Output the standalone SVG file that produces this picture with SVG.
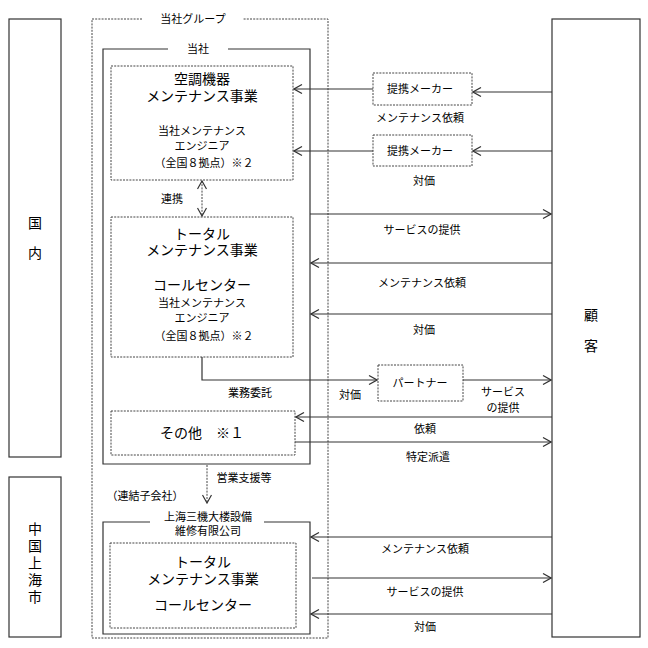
<svg xmlns="http://www.w3.org/2000/svg" width="648" height="648" viewBox="0 0 648 648">
<defs>
<style>
.s{fill:none;stroke:#333;stroke-width:1.2}
.d{fill:#fff;stroke:#444;stroke-width:1;stroke-dasharray:2,1.2}
.dl{fill:none;stroke:#444;stroke-width:1;stroke-dasharray:2,1.2}
.l{fill:none;stroke:#333;stroke-width:1.2}
text{font-family:"Noto Sans CJK JP","Noto Sans",sans-serif;fill:#000;text-anchor:middle}
.sm{font-size:11px}
.lg{font-size:14px}
.vt{font-size:14px}
</style>
<marker id="a" markerWidth="10" markerHeight="10" refX="9" refY="5" orient="auto-start-reverse" markerUnits="userSpaceOnUse">
<path d="M1,0.5 L9,5 L1,9.5" fill="none" stroke="#333" stroke-width="1.2"/>
</marker>
</defs>
<rect width="648" height="648" fill="#fff"/>

<g id="domestic">
<rect class="s" x="9" y="19" width="52" height="438"/>
<text class="vt" x="35" y="228">国</text>
<text class="vt" x="35" y="258">内</text>
</g>
<g id="shanghai-region">
<rect class="s" x="9" y="477" width="52" height="160"/>
<text class="vt" x="35" y="534">中</text>
<text class="vt" x="35" y="551">国</text>
<text class="vt" x="35" y="568">上</text>
<text class="vt" x="35" y="585">海</text>
<text class="vt" x="35" y="602">市</text>
</g>

<g id="group">
<path class="dl" d="M142,19 H92 V638 H328 V19 H243"/>
<text class="sm" x="193" y="23">当社グループ</text>
</g>

<g id="company">
<path class="s" d="M168,49 H103 V464 H310 V49 H228"/>
<text class="sm" x="198" y="53">当社</text>
</g>

<g id="aircon">
<rect class="d" x="111" y="66" width="182" height="114"/>
<text class="lg" x="202" y="84">空調機器</text>
<text class="lg" x="202" y="101">メンテナンス事業</text>
<text class="sm" x="202" y="135">当社メンテナンス</text>
<text class="sm" x="202" y="150">エンジニア</text>
<text class="sm" x="204" y="167">（全国８拠点）※２</text>
</g>

<g id="total">
<rect class="d" x="111" y="217" width="182" height="140"/>
<text class="lg" x="202" y="239">トータル</text>
<text class="lg" x="202" y="255">メンテナンス事業</text>
<text class="lg" x="202" y="290">コールセンター</text>
<text class="sm" x="202" y="307">当社メンテナンス</text>
<text class="sm" x="202" y="322">エンジニア</text>
<text class="sm" x="204" y="340">（全国８拠点）※２</text>
</g>

<g id="other">
<rect class="d" x="111" y="411" width="184" height="44"/>
<text class="lg" x="202" y="438">その他　※１</text>
</g>

<g id="subsidiary">
<path class="s" d="M150,522 H103 V634 H310 V522 H264"/>
<text class="sm" x="208" y="521">上海三機大楼設備</text>
<text class="sm" x="208" y="535">維修有限公司</text>
<rect class="d" x="110" y="543" width="186" height="85"/>
<text class="lg" x="203" y="567">トータル</text>
<text class="lg" x="203" y="584">メンテナンス事業</text>
<text class="lg" x="203" y="610">コールセンター</text>
</g>

<g id="maker1">
<rect class="d" x="373" y="73" width="99" height="32"/>
<text class="sm" x="420" y="93">提携メーカー</text>
</g>
<g id="maker2">
<rect class="d" x="373" y="135" width="99" height="31"/>
<text class="sm" x="420" y="155">提携メーカー</text>
</g>
<g id="partner">
<rect class="d" x="378" y="365" width="85" height="36"/>
<text class="sm" x="420" y="387">パートナー</text>
</g>

<g id="customer">
<rect class="s" x="552" y="19" width="88" height="618"/>
<text class="vt" x="591" y="320">顧</text>
<text class="vt" x="591" y="351">客</text>
</g>

<g id="connectors">
<line class="l" x1="552" y1="92" x2="473" y2="92" marker-end="url(#a)"/>
<line class="l" x1="373" y1="89" x2="294" y2="89" marker-end="url(#a)"/>
<line class="l" x1="552" y1="151" x2="473" y2="151" marker-end="url(#a)"/>
<line class="l" x1="373" y1="151" x2="294" y2="151" marker-end="url(#a)"/>
<line class="dl" x1="202" y1="181" x2="202" y2="216" marker-start="url(#a)" marker-end="url(#a)"/>
<line class="l" x1="310" y1="214" x2="551" y2="214" marker-end="url(#a)"/>
<line class="l" x1="552" y1="263" x2="311" y2="263" marker-end="url(#a)"/>
<line class="l" x1="552" y1="314" x2="311" y2="314" marker-end="url(#a)"/>
<path class="l" d="M202,357 V380 H377" marker-end="url(#a)"/>
<line class="l" x1="463" y1="380" x2="551" y2="380" marker-end="url(#a)"/>
<line class="l" x1="552" y1="417" x2="296" y2="417" marker-end="url(#a)"/>
<line class="l" x1="295" y1="442" x2="551" y2="442" marker-end="url(#a)"/>
<line class="dl" x1="207" y1="465" x2="207" y2="503" marker-end="url(#a)"/>
<line class="l" x1="552" y1="537" x2="311" y2="537" marker-end="url(#a)"/>
<line class="l" x1="312" y1="578" x2="551" y2="578" marker-end="url(#a)"/>
<line class="l" x1="552" y1="614" x2="311" y2="614" marker-end="url(#a)"/>

<text class="sm" x="420" y="122">メンテナンス依頼</text>
<text class="sm" x="424" y="185">対価</text>
<text class="sm" x="172" y="203">連携</text>
<text class="sm" x="422" y="234">サービスの提供</text>
<text class="sm" x="422" y="287">メンテナンス依頼</text>
<text class="sm" x="424" y="334">対価</text>
<text class="sm" x="250" y="397">業務委託</text>
<text class="sm" x="350" y="399">対価</text>
<text class="sm" x="503" y="396">サービス</text>
<text class="sm" x="503" y="412">の提供</text>
<text class="sm" x="425" y="433">依頼</text>
<text class="sm" x="428" y="461">特定派遣</text>
<text class="sm" x="244" y="482">営業支援等</text>
<text class="sm" x="145" y="500">（連結子会社）</text>
<text class="sm" x="425" y="553">メンテナンス依頼</text>
<text class="sm" x="425" y="596">サービスの提供</text>
<text class="sm" x="425" y="631">対価</text>
</g>
</svg>
